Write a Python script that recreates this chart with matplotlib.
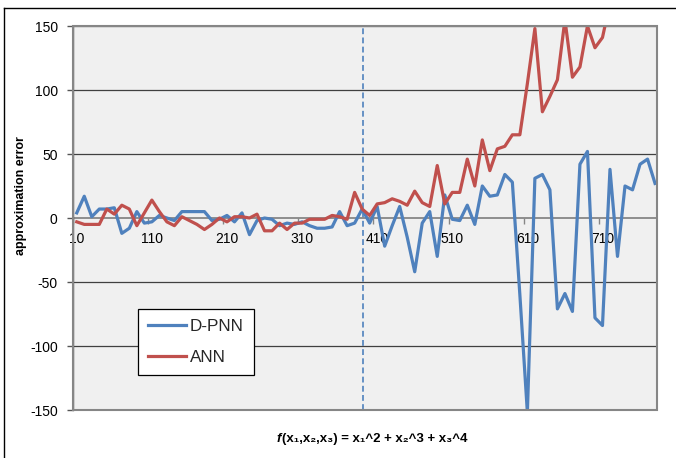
import matplotlib
matplotlib.use("Agg")
import matplotlib.pyplot as plt
from matplotlib.lines import Line2D
from matplotlib.patches import Rectangle

plt.rcParams["font.family"] = ["Liberation Sans", "DejaVu Sans"]

# one sample every 10 units, 10 .. 780
X_VALUES = list(range(10, 790, 10))

DPNN = [4, 17, 1, 7, 7, 8, -12, -8, 5, -4,
        -3, 2, 0, -2, 5, 5, 5, 5, -2, -1,
        2, -3, 4, -13, -2, 0, -1, -6, -4, -5,
        -3, -6, -8, -8, -7, 5, -6, -4, 7, -4,
        9, -22, -6, 9, -15, -42, -4, 5, -30, 18,
        -1, -2, 10, -5, 25, 17, 18, 34, 28, -60,
        -152, 31, 34, 22, -71, -59, -73, 42, 52, -78,
        -84, 38, -30, 25, 22, 42, 46, 27]

ANN = [-3, -5, -5, -5, 7, 3, 10, 7, -6, 4,
       14, 5, -3, -6, 1, -2, -5, -9, -5, 0,
       -3, 1, 1, 0, 3, -10, -10, -4, -9, -4,
       -4, -1, -1, -1, 2, 1, -1, 20, 7, 2,
       11, 12, 15, 13, 10, 21, 12, 9, 41, 11,
       20, 20, 46, 25, 61, 37, 54, 56, 65, 65,
       105, 148, 83, 95, 108, 155, 110, 118, 150, 133,
       141, 168, 180, 172, 190, 205, 196, 215]

X_TICK_LABELS = ["10", "110", "210", "310", "410", "510", "610", "710"]
Y_TICKS = [-150, -100, -50, 0, 50, 100, 150]
SPLIT_X = 391

BLUE = "#4F81BD"
RED = "#C0504D"

fig = plt.figure(figsize=(6.76, 4.58), dpi=100)
ax = fig.add_axes([73 / 676, 1 - 410 / 458, 584 / 676, 384 / 458])
ax.set_facecolor("#F0F0F0")

for y in Y_TICKS:
    if y != 0:
        ax.axhline(y, color="#404040", lw=0.9, zorder=1)

ax.plot(X_VALUES, DPNN, color=BLUE, lw=2.3, label="D-PNN", zorder=3,
        solid_joinstyle="round")
ax.plot(X_VALUES, ANN, color=RED, lw=2.3, label="ANN", zorder=3,
        solid_joinstyle="round")
ax.axvline(SPLIT_X, color=BLUE, lw=1.2, dashes=(3.5, 2), zorder=2)

ax.set_xlim(8.7, 782.6)
ax.set_ylim(-150, 150)

ax.spines["top"].set_visible(False)
ax.spines["right"].set_visible(False)
ax.spines["bottom"].set_position(("data", 0))
ax.spines["bottom"].set_color("#868686")
ax.spines["bottom"].set_linewidth(1.3)
ax.spines["bottom"].set_zorder(2)
ax.spines["left"].set_color("#555555")
ax.spines["left"].set_linewidth(1.0)

label_pos = [int(t) for t in X_TICK_LABELS]
ax.set_xticks([p - 5 for p in label_pos])
ax.set_xticklabels([""] * len(label_pos))
ax.set_xticks(label_pos, minor=True)
ax.set_xticklabels(X_TICK_LABELS, minor=True, fontsize=10)
ax.tick_params(axis="x", which="major", length=4, width=1, color="#868686")
ax.tick_params(axis="x", which="minor", length=0, pad=10)

ax.set_yticks(Y_TICKS)
ax.set_yticklabels([str(v) for v in Y_TICKS], fontsize=10)
ax.tick_params(axis="y", length=4, width=1, color="#555555", pad=7)

ax.add_patch(Rectangle((0, 0), 1, 1, transform=ax.transAxes, fill=False,
                       ec="#868686", lw=1.5, clip_on=False, zorder=4))

leg = ax.legend(loc="upper left", bbox_to_anchor=(0.111, 0.263),
                borderaxespad=0, fontsize=12.3, frameon=True, fancybox=False,
                edgecolor="black", handlelength=2.2, handletextpad=0.25,
                labelspacing=0.9, borderpad=0.6)
leg.get_frame().set_linewidth(0.9)
leg.get_frame().set_facecolor("white")
leg.get_frame().set_alpha(1)
for text in leg.get_texts():
    text.set_color("#262626")

fig.text(21 / 676, 1 - 196 / 458, "approximation error", rotation=90,
         fontsize=9, fontweight="bold", ha="center", va="center")

f_txt = fig.text(277 / 676, 1 - 445 / 458, "f", fontsize=9.5,
                 fontweight="bold", style="italic", ha="left", va="bottom")
ax.annotate("(x\u2081,x\u2082,x\u2083) = x\u2081^2 + x\u2082^3 + x\u2083^4",
            xy=(1, 0), xycoords=f_txt, xytext=(0.5, 0),
            textcoords="offset points", fontsize=9.5, fontweight="bold",
            ha="left", va="bottom")

# outer chart border (left and top visible)
fig.add_artist(Line2D([4 / 676, 4 / 676], [0, 1 - 8 / 458],
                      transform=fig.transFigure, color="black", lw=1))
fig.add_artist(Line2D([4 / 676, 1], [1 - 8 / 458, 1 - 8 / 458],
                      transform=fig.transFigure, color="black", lw=1))

fig.savefig("out.png", dpi=100)
